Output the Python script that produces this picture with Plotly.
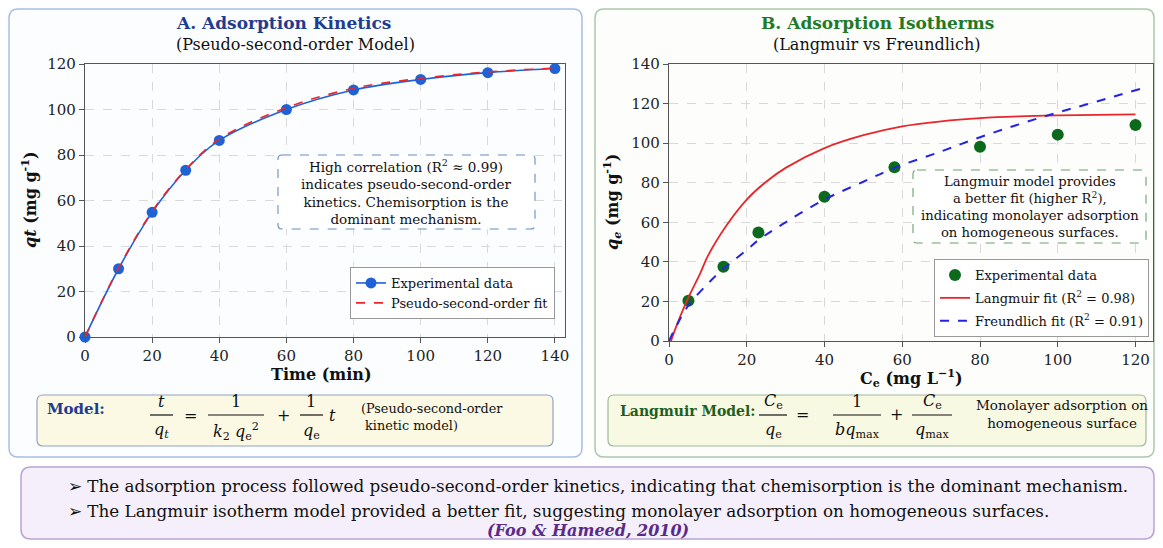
import plotly.graph_objects as go

# page is 1163x548; the figure div sits inside the page's default 8px body margin
PAGE_W, PAGE_H = 1163, 548
OFF = 8
W, H = PAGE_W - 2 * OFF, PAGE_H - 2 * OFF
SERIF = "DejaVu Serif"

# ---------------- data ----------------
time_min = [0, 10, 20, 30, 40, 60, 80, 100, 120, 140]
qt_exp = [0, 30, 54.8, 73.3, 86.4, 100, 108.6, 113.2, 116.2, 118]
qt_fit = [0, 30.3, 55.2, 73.6, 87.0, 100.8, 109.3, 113.7, 116.5, 118.2]

ce_exp = [5, 14, 23, 40, 58, 80, 100, 120]
qe_exp = [20.4, 37.5, 54.8, 72.9, 87.8, 98.2, 104.3, 109.2]

lang_ce = [0.5, 2, 5, 8, 10, 15, 20, 25, 30, 40, 50, 60, 70, 80, 90, 100, 110, 120]
lang_qe = [0, 8, 22, 34, 43, 59, 71.5, 80.5, 87.5, 97.5, 104, 108.5, 111, 112.6, 113.5, 114, 114.3, 114.5]

fr_ce = [0, 2, 5, 10, 14, 20, 23, 30, 40, 50, 58, 70, 80, 90, 100, 110, 121.5]
fr_qe = [0, 8, 18, 29, 36.5, 46, 51, 60, 71.5, 80.5, 87.5, 95.8, 103, 109.5, 115.5, 121, 127.6]

ticks_a_x = [0, 20, 40, 60, 80, 100, 120, 140]
ticks_a_y = [0, 20, 40, 60, 80, 100, 120]
ticks_b_x = [0, 20, 40, 60, 80, 100, 120]
ticks_b_y = [0, 20, 40, 60, 80, 100, 120, 140]


def X(x):
    return (x - OFF) / W


def Y(y):
    return 1 - (y - OFF) / H


fig = go.Figure()

BLUE = "#1f62d6"
RED = "#e8262b"
GREEN = "#0c6a1c"
DBLUE = "#2424e0"

fig.add_trace(go.Scatter(x=time_min, y=qt_exp, mode="lines+markers", name="Experimental data",
                         line=dict(color=BLUE, width=1.6, shape="spline"),
                         marker=dict(size=11, color=BLUE), cliponaxis=False,
                         xaxis="x", yaxis="y", legend="legend"))
fig.add_trace(go.Scatter(x=time_min, y=qt_fit, mode="lines", name="Pseudo-second-order fit",
                         line=dict(color=RED, width=1.6, dash="dash", shape="spline"),
                         xaxis="x", yaxis="y", legend="legend"))

fig.add_trace(go.Scatter(x=ce_exp, y=qe_exp, mode="markers", name="Experimental data",
                         marker=dict(size=12, color=GREEN), cliponaxis=False,
                         xaxis="x2", yaxis="y2", legend="legend2", legendgroup="g1"))
fig.add_trace(go.Scatter(x=lang_ce, y=lang_qe, mode="lines", name="Langmuir fit (R<sup>2</sup> = 0.98)",
                         line=dict(color=RED, width=1.8, shape="spline"),
                         xaxis="x2", yaxis="y2", legend="legend2", legendgroup="g2"))
fig.add_trace(go.Scatter(x=fr_ce, y=fr_qe, mode="lines", name="Freundlich fit (R<sup>2</sup> = 0.91)",
                         line=dict(color=DBLUE, width=2, dash="dash", shape="spline"),
                         xaxis="x2", yaxis="y2", legend="legend2", legendgroup="g3"))

axis_common = dict(showline=True, mirror=True, linecolor="#555", linewidth=1.2,
                   ticks="outside", ticklen=5, tickcolor="#555", automargin=False,
                   showgrid=True, gridcolor="#d9d9d9", griddash="dash", gridwidth=1,
                   zeroline=False, tickfont=dict(family=SERIF, size=15, color="#222"))

fig.update_layout(
    width=W, height=H, autosize=False,
    margin=dict(l=0, r=0, t=0, b=0, pad=0, autoexpand=False),
    paper_bgcolor="white", plot_bgcolor="white",
    font=dict(family=SERIF, color="#111"),
    xaxis=dict(domain=[X(85), X(565)], range=[0, 143], tickvals=ticks_a_x, anchor="y", **axis_common),
    yaxis=dict(domain=[Y(337), Y(64)], range=[0, 120], tickvals=ticks_a_y, anchor="x", **axis_common),
    xaxis2=dict(domain=[X(669), X(1153)], range=[0, 124.5], tickvals=ticks_b_x, anchor="y2", **axis_common),
    yaxis2=dict(domain=[Y(341), Y(64)], range=[0, 140], tickvals=ticks_b_y, anchor="x2", **axis_common),
    legend=dict(x=X(555), y=Y(267), xanchor="right", yanchor="top", bgcolor="white",
                bordercolor="#999", borderwidth=1, font=dict(family=SERIF, size=13, color="#111")),
    legend2=dict(x=X(1149), y=Y(259), xanchor="right", yanchor="top", bgcolor="white",
                 bordercolor="#999", borderwidth=1, tracegroupgap=3,
                 font=dict(family=SERIF, size=13, color="#111")),
)


def rrect_path(x0, y0, x1, y1, r):
    pts = []
    pts.append(f"M {X(x0 + r)},{Y(y0)}")
    pts.append(f"L {X(x1 - r)},{Y(y0)}")
    pts.append(f"Q {X(x1)},{Y(y0)} {X(x1)},{Y(y0 + r)}")
    pts.append(f"L {X(x1)},{Y(y1 - r)}")
    pts.append(f"Q {X(x1)},{Y(y1)} {X(x1 - r)},{Y(y1)}")
    pts.append(f"L {X(x0 + r)},{Y(y1)}")
    pts.append(f"Q {X(x0)},{Y(y1)} {X(x0)},{Y(y1 - r)}")
    pts.append(f"L {X(x0)},{Y(y0 + r)}")
    pts.append(f"Q {X(x0)},{Y(y0)} {X(x0 + r)},{Y(y0)} Z")
    return " ".join(pts)


shapes = []


def box(x0, y0, x1, y1, r, fill, line, width=1.4, dash="solid", layer="below"):
    shapes.append(dict(type="path", path=rrect_path(x0, y0, x1, y1, r), xref="paper", yref="paper",
                       fillcolor=fill, line=dict(color=line, width=width, dash=dash), layer=layer))


# panels
box(9, 9, 582, 457, 9, "#fcfdff", "#a6bfe2", 1.5)
box(595, 9, 1154, 457, 9, "#fdfefc", "#a9c8a9", 1.5)
box(21, 467, 1154, 539, 10, "#f4effa", "#b8a4d4", 1.5)
# equation boxes
box(37, 395, 553, 446, 6, "#fbf9e3", "#8fa3c6", 1.2)
box(608, 395, 1146, 446, 6, "#f8f9e3", "#9fb79a", 1.2)
# dashed note boxes
box(278, 155, 535, 229, 4, "white", "#6a8cc2", 1.1, "dash", "above")
box(913, 170, 1146, 243, 4, "white", "#6aa06e", 1.1, "dash", "above")


def frac_line(xa, xb, y):
    shapes.append(dict(type="line", xref="paper", yref="paper", x0=X(xa), x1=X(xb), y0=Y(y), y1=Y(y),
                       line=dict(color="#111", width=1.2), layer="above"))


annots = []


def txt(x, y, s, size, color="#111", xanchor="center", align="center", angle=0, family=SERIF):
    annots.append(dict(x=X(x), y=Y(y), xref="paper", yref="paper", text=s, showarrow=False,
                       xanchor=xanchor, yanchor="middle", align=align, textangle=angle,
                       font=dict(family=family, size=size, color=color)))


NAVY = "#1f3c91"
GTITLE = "#1f7a26"
GDARK = "#1d5f22"

# titles
txt(283, 23, "<b>A. Adsorption Kinetics</b>", 17, NAVY)
txt(295, 44, "(Pseudo-second-order Model)", 16, "#111")
txt(877, 23, "<b>B. Adsorption Isotherms</b>", 17, GTITLE)
txt(876, 44, "(Langmuir vs Freundlich)", 16, "#111")

# axis titles
txt(321, 374, "<b>Time (min)</b>", 16)
txt(29, 200, "<b><i>qt</i> (mg g<sup>-1</sup>)</b>", 16, angle=-90)
txt(911, 378, "<b>C<sub>e</sub> (mg L<sup>\u22121</sup>)</b>", 16)
txt(612, 202, "<b><i>q<sub>e</sub></i> (mg g<sup>-1</sup>)</b>", 16, angle=-90)

# notes
txt(406, 192, "High correlation (R<sup>2</sup> \u2248 0.99)<br>indicates pseudo-second-order<br>"
              "kinetics. Chemisorption is the<br>dominant mechanism.", 13.5)
txt(1030, 207, "Langmuir model provides<br>a better fit (higher R<sup>2</sup>),<br>"
               "indicating monolayer adsorption<br>on homogeneous surfaces.", 13.2)

# equation A
txt(76, 409, "<b>Model:</b>", 15, NAVY)
txt(161, 401, "<i>t</i>", 16)
frac_line(150, 173, 415)
txt(161, 430, "<i>q<sub>t</sub></i>", 16)
txt(190, 415, "=", 16)
txt(236, 401, "1", 16)
frac_line(208, 264, 415)
txt(236, 431, "<i>k</i><sub>2</sub> <i>q</i><sub>e</sub><sup>2</sup>", 16)
txt(283, 415, "+", 16)
txt(311, 401, "1", 16)
frac_line(300, 323, 415)
txt(311, 431, "<i>q</i><sub>e</sub>", 16)
txt(332, 415, "<i>t</i>", 16)
txt(359, 417, "(Pseudo-second-order<br> kinetic model)", 12.8, xanchor="left", align="left")

# equation B
txt(618, 411, "<b>Langmuir Model:</b>", 14, GDARK, xanchor="left")
txt(773, 401, "<i>C</i><sub>e</sub>", 16)
frac_line(759, 787, 415)
txt(773, 430, "<i>q</i><sub>e</sub>", 16)
txt(802, 414, "=", 16)
txt(857, 401, "1", 16)
frac_line(833, 881, 415)
txt(857, 430, "<i>bq</i><sub>max</sub>", 16)
txt(896, 414, "+", 16)
txt(932, 401, "<i>C</i><sub>e</sub>", 16)
frac_line(912, 952, 415)
txt(932, 430, "<i>q</i><sub>max</sub>", 16)
txt(1062, 414, "Monolayer adsorption on<br>homogeneous surface", 13.5)

# bottom summary
txt(66, 486, "\u27a2 The adsorption process followed pseudo-second-order kinetics, indicating that "
             "chemisorption is the dominant mechanism.", 16.8, "#111", xanchor="left")
txt(66, 511, "\u27a2 The Langmuir isotherm model provided a better fit, suggesting monolayer adsorption "
             "on homogeneous surfaces.", 16.8, "#111", xanchor="left")
txt(588, 530, "<b><i>(Foo &amp; Hameed, 2010)</i></b>", 16, "#5a2a8a")

fig.update_layout(shapes=shapes, annotations=annots)
fig.write_html("out.html")
